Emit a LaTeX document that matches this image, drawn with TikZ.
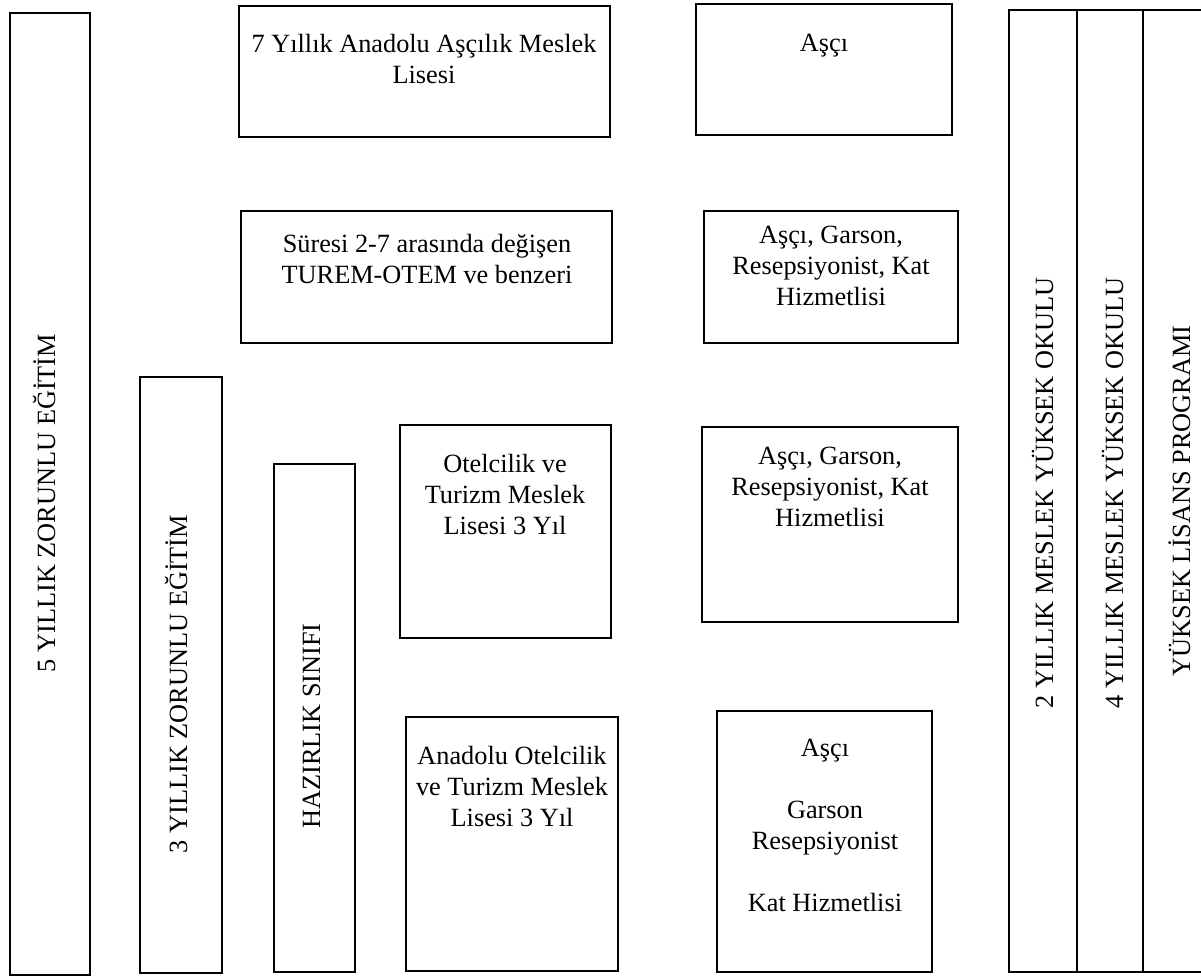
\documentclass[tikz,border=0pt]{standalone}
\usepackage{fontspec}
\setmainfont{Liberation Serif}
\tikzset{
  lbl/.style={anchor=north, inner sep=0pt, align=center, font=\fontsize{12}{14.15}\selectfont},
  vlbl/.style={rotate=90, anchor=base, inner sep=0pt, font=\fontsize{12}{14.15}\selectfont}
}

\begin{document}
\begin{tikzpicture}[x=0.4563pt, y=-0.4563pt, line width=1pt]
    \useasboundingbox (0,0) rectangle (1201,977);
    % boxes
    \foreach \xa/\ya/\xb/\yb in {10/13/90/975, 140/377/222/973, 274/464/355/972,
      239/6/610/137, 241/211/612/343, 400/425/611/638, 406/717/618/971,
      696/4/952/135, 704/211/958/343, 702/427/958/622, 717/711/932/972}
    \draw (\xa,\ya) rectangle (\xb,\yb);
    % right columns run off the page
    \draw (1201,10) -- (1009,10) -- (1009,972) -- (1201,972)
      (1077,10) -- (1077,972) (1143,10) -- (1143,972);
    \node [lbl] (asciliklisesi) at (424,29.3) {\strut 7 Yıllık Anadolu Aşçılık Meslek\\Lisesi};
    \node [lbl] (turem) at (427,229.3) {\strut Süresi 2-7 arasında değişen\\TUREM-OTEM ve benzeri};
    \node [lbl] (otelcilik) at (505,449.3) {\strut Otelcilik ve\\Turizm Meslek\\Lisesi 3 Yıl};
    \node [lbl] (anadolu) at (512,741.3) {\strut Anadolu Otelcilik\\ve Turizm Meslek\\Lisesi 3 Yıl};
    \node [lbl] (asci) at (824,28.3) {\strut Aşçı};
    \node [lbl] (meslekler) at (831,220.3) {\strut Aşçı, Garson,\\Resepsiyonist, Kat\\Hizmetlisi};
    \node [lbl] (meslekler2) at (830,441.3) {\strut Aşçı, Garson,\\Resepsiyonist, Kat\\Hizmetlisi};
    \node [lbl] (meslekler3) at (825,733.3) {\strut Aşçı\\ \mbox{}\\Garson\\Resepsiyonist\\ \mbox{}\\Kat Hizmetlisi};
    \node [vlbl] (bes) at (55,503) {5 YILLIK ZORUNLU EĞİTİM};
    \node [vlbl] (uc) at (187,684) {3 YILLIK ZORUNLU EĞİTİM};
    \node [vlbl] (hazirlik) at (320,726) {HAZIRLIK SINIFI};
    \node [vlbl] (myo) at (1053,493) {2 YILLIK MESLEK YÜKSEK OKULU};
    \node [vlbl] (yo) at (1123,493) {4 YILLIK MESLEK YÜKSEK OKULU};
    \node [vlbl] (lisans) at (1190,501) {YÜKSEK LİSANS PROGRAMI};
\end{tikzpicture}
\end{document}
